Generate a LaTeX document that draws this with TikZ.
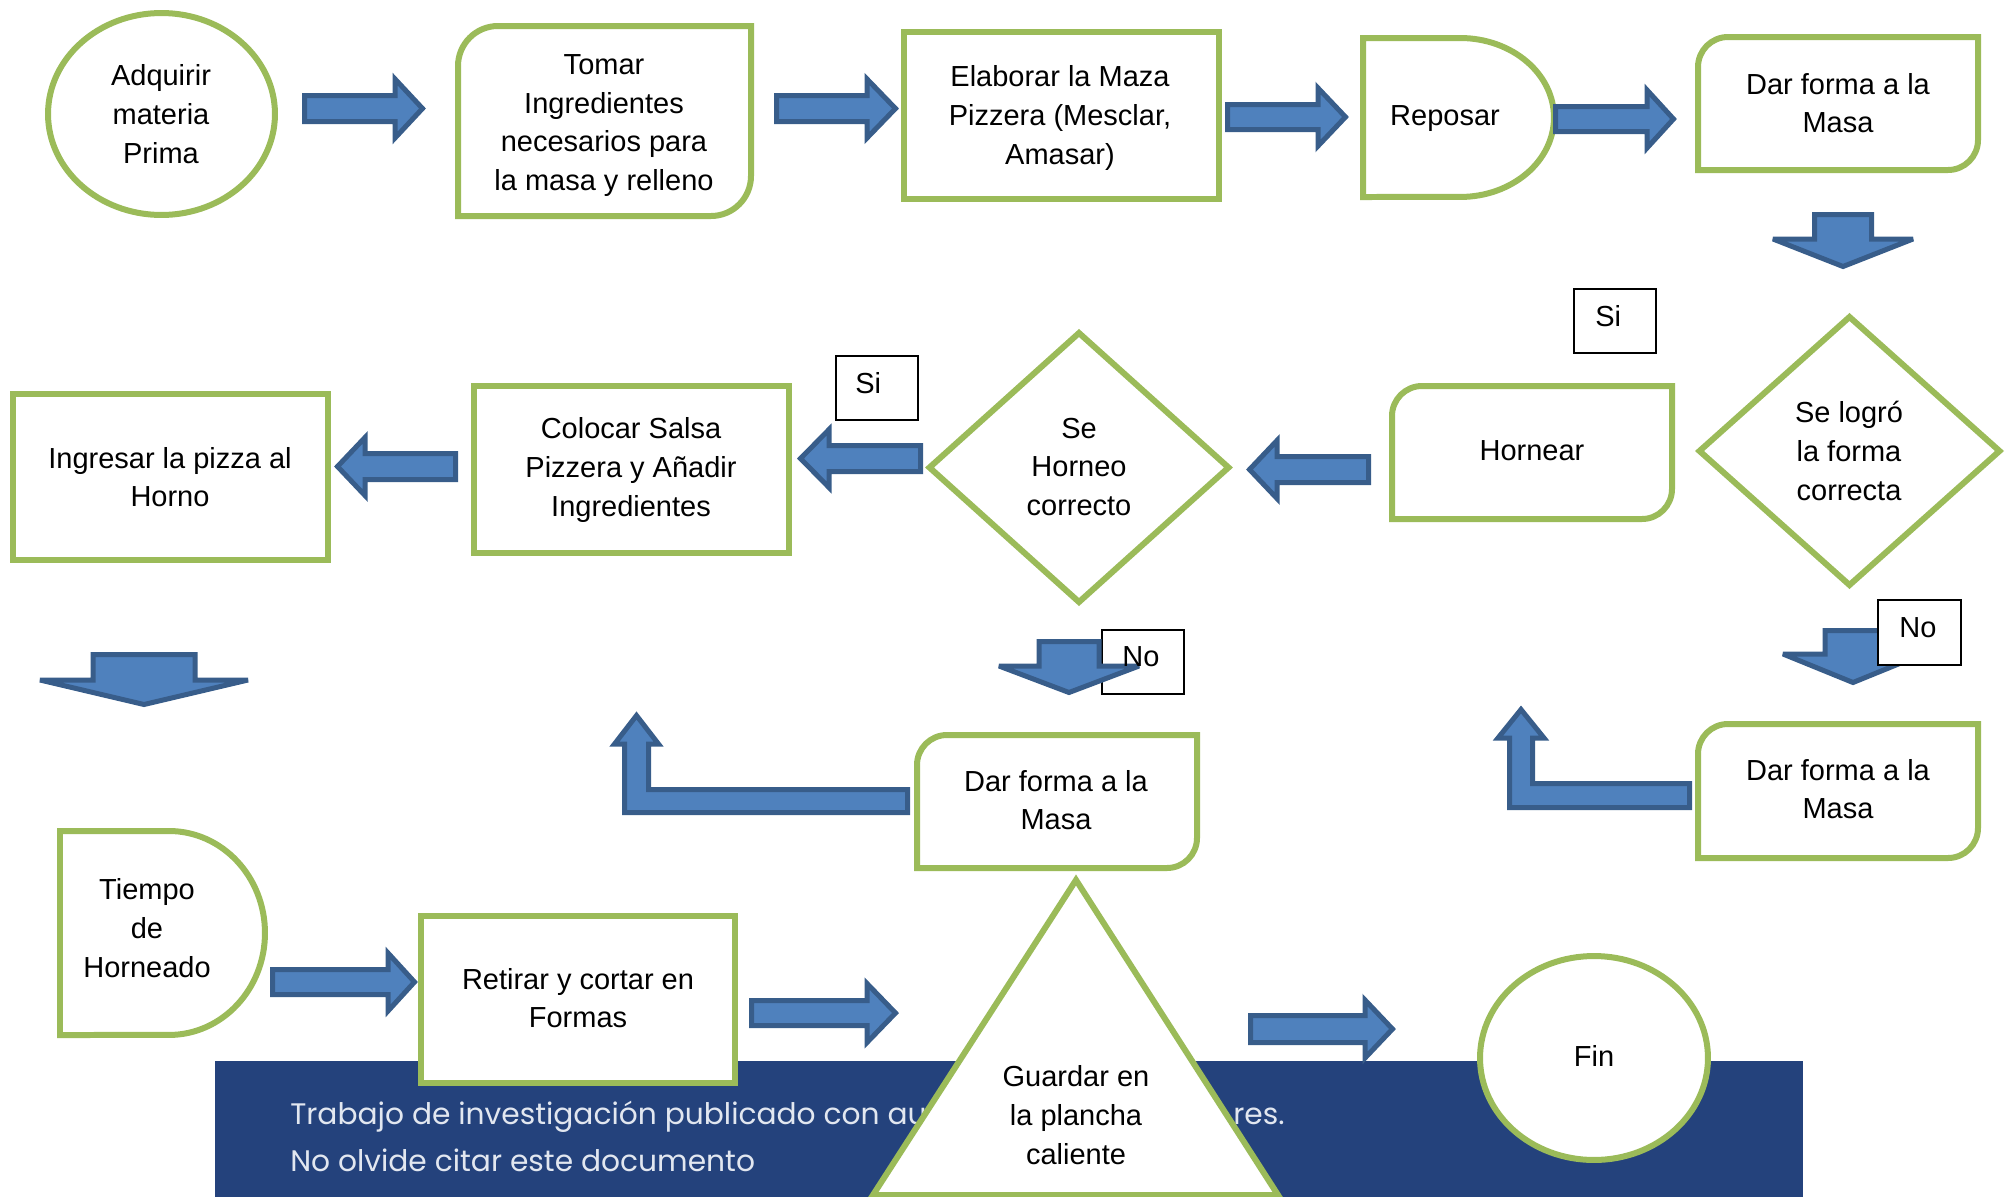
\documentclass[tikz,border=0pt]{standalone}
\usepackage{fontspec}
\setmainfont{Liberation Sans}
\newfontfamily\bannerfont{Poppins}
\definecolor{ggreen}{RGB}{155,187,89}
\definecolor{afill}{RGB}{79,129,189}
\definecolor{aline}{RGB}{56,93,138}
\definecolor{navy}{RGB}{36,66,124}
\definecolor{btext}{RGB}{226,231,240}
% right/left block arrow: tail x, head-base x, tip x, mid y, body half, head half
\newcommand\rarr[6]{\draw[barrow] (#1,{#4-#5}) -- (#2,{#4-#5}) -- (#2,{#4-#6}) -- (#3,#4) -- (#2,{#4+#6}) -- (#2,{#4+#5}) -- (#1,{#4+#5}) -- cycle;}
% down block arrow: centre x, top y, head-base y, tip y, body half, head half
\newcommand\darr[6]{\draw[barrow] ({#1-#5},#2) -- ({#1+#5},#2) -- ({#1+#5},#3) -- ({#1+#6},#3) -- (#1,#4) -- ({#1-#6},#3) -- ({#1-#5},#3) -- cycle;}
% box with rounded top-left and bottom-right corners (radius in px)
\newcommand\rdbox[5]{\draw[gbox] (#1,{#2+#5}) arc[start angle=180, end angle=90, radius=#5*0.02cm] -- (#3,#2) -- (#3,{#4-#5}) arc[start angle=0, end angle=-90, radius=#5*0.02cm] -- (#1,#4) -- cycle;}
% delay shape: left x, x where curve starts, top y, bottom y, x radius, y radius
\newcommand\delayshape[6]{\draw[gbox] (#1,#3) -- (#2,#3) arc[start angle=90, end angle=-90, x radius=#5, y radius=#6] -- (#1,#4) -- cycle;}
\begin{document}
\begin{tikzpicture}[x=0.02cm, y=-0.02cm,
  gbox/.style={draw=ggreen, line width=0.12cm, fill=white},
  barrow/.style={draw=aline, fill=afill, line width=0.1cm, line join=miter, miter limit=4},
  lbl/.style={font=\fontsize{16.5pt}{22pt}\selectfont, align=center, inner sep=0pt},
  tagbox/.style={draw=black, line width=0.04cm, fill=white},
  tagtxt/.style={font=\fontsize{16.5pt}{22pt}\selectfont, inner sep=0pt, anchor=west},
  bantxt/.style={font=\bannerfont\fontsize{16.9pt}{20pt}\selectfont, text=btext, inner sep=0pt, anchor=base west}]
\useasboundingbox (0,0) rectangle (2009,1197);

% banner
\fill[navy] (215,1061) rectangle (1803,1197);
\node[bantxt] (ban1) at (290,1124) {Trabajo de investigación publicado con aut};
\node[bantxt] (ban1b) at (1233,1124) {res.};
\node[bantxt] (ban2) at (290,1171) {No olvide citar este documento};

% row 1
\draw[gbox] (161.5,114) ellipse [x radius=2.27cm, y radius=2.02cm];
\node[lbl] (adq) at (161,114) {Adquirir\\materia\\Prima};
\rarr{304.5}{395}{422.5}{108.5}{13}{29.5}
\rdbox{458}{26}{751}{216}{40}
\node[lbl] (tomar) at (604,125.5) {Tomar\\Ingredientes\\necesarios para\\la masa y relleno};
\rarr{776.5}{867}{895.5}{108.5}{13}{29.5}
\draw[gbox] (904,32) rectangle (1219,199);
\node[lbl] (elab) at (1060,118) {Elaborar la Maza\\Pizzera (Mesclar,\\Amasar)};
\rarr{1227.5}{1318}{1345.5}{117}{12.5}{29}
\delayshape{1363}{1460}{38}{197}{1.88cm}{1.59cm}
\node[lbl] (repo) at (1445,119) {Reposar};
\rarr{1555.5}{1647}{1673.5}{119}{12.5}{29}
\rdbox{1698}{37}{1978}{170}{30}
\node[lbl] (dar1) at (1838,103) {Dar forma a la\\Masa};
\darr{1843}{214.5}{239}{266.5}{28.5}{70}

% row 2
\draw[tagbox] (1574,289) rectangle (1656,353);
\node[tagtxt] (si1) at (1595,316) {Si};
\draw[gbox] (1699.5,451) -- (1849.5,317) -- (1999.5,451) -- (1849.5,585) -- cycle;
\node[lbl] (logro) at (1849,451) {Se logró\\la forma\\correcta};
\rdbox{1392}{386}{1672}{519}{30}
\node[lbl] (horn) at (1532,451) {Hornear};
\rarr{1368.5}{1277}{1249.5}{469.5}{13}{29}
\draw[gbox] (929.5,467.5) -- (1079,333) -- (1228.5,467.5) -- (1079,602) -- cycle;
\node[lbl] (horneo) at (1079,467) {Se\\Horneo\\correcto};
\draw[tagbox] (836,356) rectangle (918,420);
\node[tagtxt] (si2) at (855,383) {Si};
\rarr{920.5}{829}{800.5}{458.5}{13}{29}
\draw[gbox] (474,386) rectangle (789,553);
\node[lbl] (colocar) at (631,470) {Colocar Salsa\\Pizzera y Añadir\\Ingredientes};
\rarr{455.5}{365}{337.5}{466.5}{13}{29}
\draw[gbox] (13,394) rectangle (328,560);
\node[lbl] (ingresar) at (170,477) {Ingresar la pizza al\\Horno};
\darr{144}{654.5}{680}{704.5}{51}{104}

% row 3
\draw[tagbox] (1102,630) rectangle (1184,694);
\darr{1069}{641.5}{666}{692.5}{30}{70}
\node[tagtxt] (no1) at (1122,657) {No};
\darr{1853}{630.5}{654}{682.5}{28}{70}
\draw[tagbox] (1878,600) rectangle (1961,665);
\node[tagtxt] (no2) at (1899,628) {No};
\rdbox{1698}{724}{1978}{858}{30}
\node[lbl] (dar3) at (1838,789) {Dar forma a la\\Masa};
\draw[barrow] (1689.5,783.5) -- (1532.5,783.5) -- (1532.5,738) -- (1544,738) -- (1521,709.5) -- (1498,738) -- (1509.5,738) -- (1509.5,807.5) -- (1689.5,807.5) -- cycle;
\rdbox{917}{735}{1197}{868}{30}
\node[lbl] (dar2) at (1056,800) {Dar forma a la\\Masa};
\draw[barrow] (907.5,789.5) -- (648.5,789.5) -- (648.5,744) -- (658.5,744) -- (636.5,715.5) -- (614.5,744) -- (624.5,744) -- (624.5,812.5) -- (907.5,812.5) -- cycle;

% row 4
\delayshape{60}{169}{831}{1035}{1.92cm}{2.04cm}
\node[lbl] (tiempo) at (147,928) {Tiempo\\de\\Horneado};
\rarr{272.5}{388}{414.5}{982}{12.5}{29}
\draw[gbox] (421,916) rectangle (735,1083);
\node[lbl] (retirar) at (578,998) {Retirar y cortar en\\Formas};
\rarr{751.5}{867}{895.5}{1013}{12.5}{29.5}
\draw[gbox] (873,1195) -- (1076,880) -- (1278,1195) -- cycle;
\node[lbl] (guardar) at (1076,1115) {Guardar en\\la plancha\\caliente};
\rarr{1250.5}{1365}{1392.5}{1029}{13.5}{29}
\draw[gbox] (1594,1058) ellipse [x radius=2.28cm, y radius=2.04cm];
\node[lbl] (fin) at (1594,1056) {Fin};
\end{tikzpicture}
\end{document}
